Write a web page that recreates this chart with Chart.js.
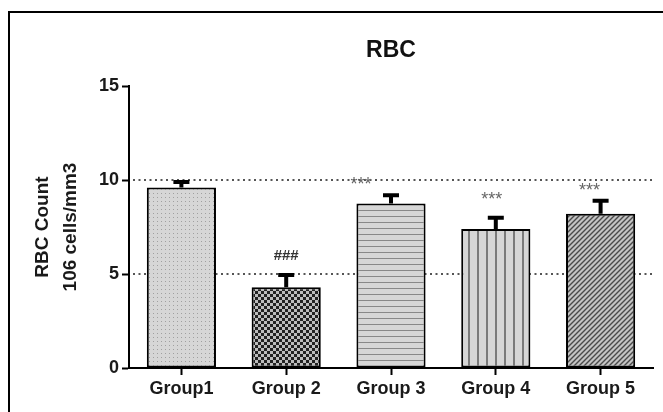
<!DOCTYPE html>
<html lang="en">
<head>
  <meta charset="UTF-8">
  <title>RBC</title>
  <style>
    body {
      margin: 0;
      background-color: #fff;
      font-family: "Liberation Sans", Arial, sans-serif;
    }

    .chart {
      width: 663px;
      height: 412px;
      position: relative;
    }
  </style>
</head>
<body>
  <div class="chart">
    <canvas id="rbcChart"></canvas>
  </div>

  <script src="https://cdn.jsdelivr.net/npm/chart.js"></script>
  <script>
    // data
    const groups = ['Group1', 'Group 2', 'Group 3', 'Group 4', 'Group 5'];
    const rbcMean = [9.6, 4.3, 8.75, 7.4, 8.2];
    const rbcSem = [0.4, 0.75, 0.55, 0.7, 0.8];
    const marks = ['', '###', '***', '***', '***'];
    const yTicks = [0, 5, 10, 15];
    const dottedAt = [5, 10];

    // fill patterns for the bars
    function makePattern(size, draw) {
      const c = document.createElement('canvas');
      c.width = size;
      c.height = size;
      const g = c.getContext('2d');
      draw(g, size);
      return g.createPattern(c, 'repeat');
    }

    const dots = makePattern(4, (g, s) => {
      g.fillStyle = '#d6d6d6';
      g.fillRect(0, 0, s, s);
      g.fillStyle = '#a0a0a0';
      g.fillRect(1, 1, 1, 1);
    });
    const checks = makePattern(6, (g, s) => {
      g.fillStyle = '#bdbdbd';
      g.fillRect(0, 0, s, s);
      g.fillStyle = '#222';
      g.fillRect(0, 0, 3, 3);
      g.fillRect(3, 3, 3, 3);
    });
    const hLines = makePattern(6, (g, s) => {
      g.fillStyle = '#d6d6d6';
      g.fillRect(0, 0, s, s);
      g.fillStyle = '#888';
      g.fillRect(0, 0, s, 1);
    });
    const vLines = makePattern(9, (g, s) => {
      g.fillStyle = '#d6d6d6';
      g.fillRect(0, 0, s, s);
      g.fillStyle = '#7a7a7a';
      g.fillRect(0, 0, 2, s);
    });
    const diag = makePattern(5, (g, s) => {
      g.fillStyle = '#c4c4c4';
      g.fillRect(0, 0, s, s);
      g.strokeStyle = '#4a4a4a';
      g.lineWidth = 1.4;
      g.beginPath();
      g.moveTo(-1, s + 1);
      g.lineTo(s + 1, -1);
      g.moveTo(-1, 1);
      g.lineTo(1, -1);
      g.moveTo(s - 1, s + 1);
      g.lineTo(s + 1, s - 1);
      g.stroke();
    });

    const frame = {
      id: 'frame',
      beforeDraw(chart) {
        const ctx = chart.ctx;
        ctx.save();
        ctx.strokeStyle = '#000';
        ctx.lineWidth = 2;
        ctx.beginPath();
        ctx.moveTo(9, chart.height);
        ctx.lineTo(9, 12);
        ctx.lineTo(chart.width, 12);
        ctx.stroke();
        ctx.restore();
      },
      beforeDatasetsDraw(chart) {
        // dotted reference lines behind the bars
        const ctx = chart.ctx;
        const y = chart.scales.y;
        const area = chart.chartArea;
        ctx.save();
        ctx.strokeStyle = '#555';
        ctx.lineWidth = 2;
        ctx.setLineDash([2, 3.5]);
        dottedAt.forEach(v => {
          const py = Math.round(y.getPixelForValue(v));
          ctx.beginPath();
          ctx.moveTo(area.left + 4, py);
          ctx.lineTo(area.right, py);
          ctx.stroke();
        });
        ctx.restore();
      }
    };

    const extras = {
      id: 'extras',
      afterDatasetsDraw(chart) {
        const ctx = chart.ctx;
        const y = chart.scales.y;
        const meta = chart.getDatasetMeta(0);
        const area = chart.chartArea;
        ctx.save();

        // error bars (upper only)
        ctx.strokeStyle = '#000';
        ctx.lineWidth = 4;
        meta.data.forEach((bar, i) => {
          const y0 = y.getPixelForValue(rbcMean[i]);
          const y1 = y.getPixelForValue(rbcMean[i] + rbcSem[i]);
          ctx.beginPath();
          ctx.moveTo(bar.x, y0);
          ctx.lineTo(bar.x, y1 + 2);
          ctx.moveTo(bar.x - 8, y1 + 2);
          ctx.lineTo(bar.x + 8, y1 + 2);
          ctx.stroke();
        });

        // significance marks
        const shift = [[0, 0], [0, -20], [-30, -11], [-4, -19], [-11, -11]];
        ctx.textAlign = 'center';
        ctx.textBaseline = 'middle';
        meta.data.forEach((bar, i) => {
          if (!marks[i]) return;
          const top = y.getPixelForValue(rbcMean[i] + rbcSem[i]);
          if (marks[i] === '###') {
            ctx.font = 'bold 15px "Liberation Sans", Arial';
            ctx.fillStyle = '#333';
          } else {
            ctx.font = '18px "Liberation Sans", Arial';
            ctx.fillStyle = '#666';
          }
          ctx.fillText(marks[i], bar.x + shift[i][0], top + shift[i][1] + 3);
        });

        // title
        ctx.fillStyle = '#111';
        ctx.font = 'bold 23px "Liberation Sans", Arial';
        ctx.fillText('RBC', (area.left + area.right) / 2, 51);

        // y axis title
        ctx.translate(0, (area.top + area.bottom) / 2);
        ctx.rotate(-Math.PI / 2);
        ctx.font = 'bold 19px "Liberation Sans", Arial';
        ctx.fillStyle = '#1a1a1a';
        ctx.fillText('RBC Count', 0, 43);
        ctx.fillText('106 cells/mm3', 0, 71);
        ctx.restore();
      }
    };

    const ctx = document.getElementById('rbcChart').getContext('2d');
    const rbcChart = new Chart(ctx, {
      type: 'bar',
      data: {
        labels: groups,
        datasets: [{
          data: rbcMean,
          backgroundColor: [dots, checks, hLines, vLines, diag],
          borderColor: '#000',
          borderWidth: 2,
          borderSkipped: false,
          categoryPercentage: 1,
          barPercentage: 0.66
        }]
      },
      options: {
        responsive: true,
        maintainAspectRatio: false,
        animation: false,
        layout: {
          padding: { top: 86, right: 10, left: 0, bottom: 0 }
        },
        plugins: {
          legend: { display: false },
          tooltip: { enabled: false }
        },
        scales: {
          x: {
            afterFit: (scale) => { scale.height = 44; },
            border: { color: '#000', width: 2 },
            grid: {
              offset: false,
              drawOnChartArea: false,
              tickLength: 7,
              tickColor: '#000',
              tickWidth: 2
            },
            ticks: {
              color: '#1a1a1a',
              padding: 3,
              font: { family: '"Liberation Sans", Arial', size: 18, weight: 'bold' }
            }
          },
          y: {
            min: 0,
            max: 15,
            afterFit: (scale) => { scale.width = 129; },
            afterBuildTicks: (scale) => {
              scale.ticks = yTicks.map(v => ({ value: v }));
            },
            border: { color: '#000', width: 2 },
            grid: {
              drawOnChartArea: false,
              tickColor: '#000',
              tickWidth: 2,
              tickLength: 7
            },
            ticks: {
              color: '#1a1a1a',
              padding: 3,
              font: { family: '"Liberation Sans", Arial', size: 18, weight: 'bold' }
            }
          }
        }
      },
      plugins: [frame, extras]
    });
  </script>
</body>
</html>
